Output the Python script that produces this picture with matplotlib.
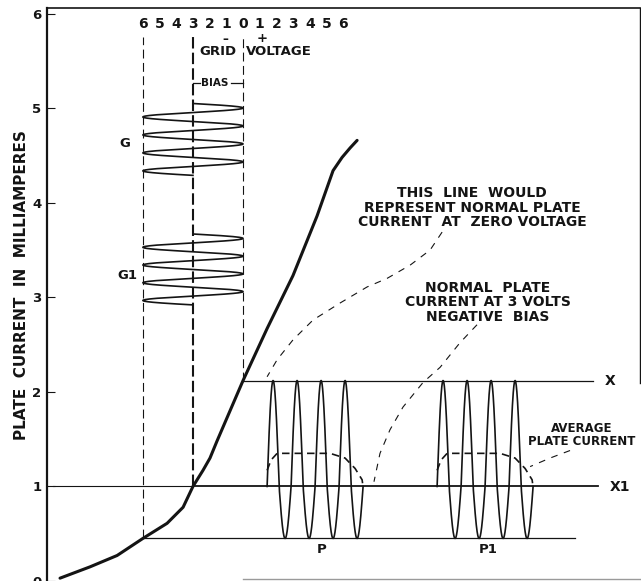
import numpy as np
import matplotlib.pyplot as plt

# Характеристика лампы: сеточное напряжение (В) -> анодный ток (мА)
curve_v = [-10.96, -9.16, -7.54, -6.0, -4.55, -3.59, -3.0, -2.40, -1.98, -1.56,
           0.0, 1.44, 2.99, 4.43, 5.39, 5.93, 6.41, 6.83]
curve_i = [0.03, 0.15, 0.27, 0.45, 0.61, 0.78, 1.0, 1.17, 1.30, 1.48,
           2.12, 2.67, 3.23, 3.86, 4.34, 4.48, 4.58, 4.66]

# Шкала сеточного напряжения сверху
top_pos = [-6, -5, -4, -3, -2, -1, 0, 1, 2, 3, 4, 5, 6]
top_labels = ["6", "5", "4", "3", "2", "1", "0", "1", "2", "3", "4", "5", "6"]
y_ticks = [0, 1, 2, 3, 4, 5, 6]

# Рабочие уровни
bias_v = -3.0
swing_v = 3.0
plate_max = 2.12
plate_bias = 1.0
plate_min = 0.45
dash_top = 5.75

# Сигналы на сетке G и G1: (верх, низ) по оси тока, 4 периода
grid_names = ["G", "G1"]
grid_spans = [(5.05, 4.29), (3.67, 2.92)]
grid_label_v = [-7.07, -6.95]
grid_label_i = [4.63, 3.23]

# Анодный ток P и P1
plate_names = ["P", "P1"]
plate_starts = [1.44, 11.62]
plate_cycle = 1.437
n_cycles = 4
plate_label_v = [4.73, 14.67]
plate_label_i = [0.33, 0.33]

# Средний анодный ток (пунктирная дуга), смещения от начала волны
arch_dx = [0.0, 0.24, 0.6, 3.77, 4.67, 5.27, 5.69, 5.75]
arch_i = [1.17, 1.28, 1.35, 1.35, 1.30, 1.19, 1.07, 0.99]

# Горизонтальные линии
x_line = (0.0, 20.96)
x1_line = (-11.4, 21.26)
min_line = (-6.0, 19.88)

# Выноски
lead_zero_v = [11.92, 11.20, 10.0, 8.62, 7.43, 5.81, 4.19, 2.99, 2.04, 1.44]
lead_zero_i = [3.69, 3.50, 3.34, 3.20, 3.11, 2.94, 2.76, 2.55, 2.34, 2.16]
lead_bias_v = [14.01, 12.99, 11.80, 10.78, 9.58, 8.80, 8.20, 7.84]
lead_bias_i = [2.71, 2.52, 2.26, 2.10, 1.84, 1.60, 1.35, 1.05]
lead_avg_v = [19.58, 18.38, 17.19]
lead_avg_i = [1.38, 1.30, 1.21]

ink = "#141414"
font = dict(fontweight="bold", color=ink, family="DejaVu Sans")

xmin, xmax = -11.74, 23.77
ymin, ymax = 0.0, 6.06

fig = plt.figure(figsize=(6.41, 5.81), dpi=100)
ax = fig.add_axes([47 / 641, 0, 593 / 641, 573 / 581])
ax.set_xlim(xmin, xmax)
ax.set_ylim(ymin, ymax)

# Рамка
for side in ["right", "bottom"]:
    ax.spines[side].set_visible(False)
ax.spines["left"].set_linewidth(1.6)
ax.spines["top"].set_linewidth(1.2)
ax.spines["left"].set_color(ink)
ax.spines["top"].set_color(ink)
ax.plot([xmax, xmax], [2.09, ymax], color=ink, lw=1.0, clip_on=False)
ax.plot([0.0, xmax], [0.02, 0.02], color="#9a9a9a", lw=1.0, clip_on=False)

ax.set_xticks([])
ax.set_yticks(y_ticks)
ax.tick_params(axis="y", direction="in", length=6, width=0.8, pad=4,
               labelsize=9.5, colors=ink)
for lbl in ax.get_yticklabels():
    lbl.set_fontweight("bold")

fig.text(22 / 641, 1 - 285 / 581, "PLATE  CURRENT  IN  MILLIAMPERES",
         rotation=90, ha="center", va="center", fontsize=11, **font)

# Вертикальные пунктиры -6, -3, 0 В
ax.plot([-6, -6], [plate_min, dash_top], color=ink, lw=0.8, dashes=(8, 4))
ax.plot([bias_v, bias_v], [plate_bias, dash_top], color=ink, lw=1.5, dashes=(5.5, 2))
ax.plot([0, 0], [plate_max, dash_top], color=ink, lw=0.8, dashes=(8, 4))

# Подписи сверху
for pos, lab in zip(top_pos, top_labels):
    ax.text(pos, 5.89, lab, ha="center", va="center", fontsize=10, **font)
ax.text(-1.08, 5.73, "\u2013", ha="center", va="center", fontsize=8.5, **font)
ax.text(1.14, 5.74, "+", ha="center", va="center", fontsize=9.5, **font)
ax.text(-0.4, 5.595, "GRID", ha="right", va="center", fontsize=9.5, **font)
ax.text(0.15, 5.595, "VOLTAGE", ha="left", va="center", fontsize=9.5, **font)
ax.text(-1.68, 5.27, "BIAS", ha="center", va="center", fontsize=7.5, **font)
ax.plot([bias_v, -2.55], [5.27, 5.27], color=ink, lw=0.9)
ax.plot([-0.75, 0.0], [5.27, 5.27], color=ink, lw=0.9)

# Характеристика
ax.plot(curve_v, curve_i, color=ink, lw=2.2, solid_capstyle="round",
        solid_joinstyle="round")

# Горизонтальные линии
ax.plot(x_line, [plate_max, plate_max], color=ink, lw=0.9)
ax.plot([x1_line[0], bias_v], [plate_bias, plate_bias], color=ink, lw=0.8)
ax.plot([bias_v, x1_line[1]], [plate_bias, plate_bias], color=ink, lw=1.3)
ax.plot(min_line, [plate_min, plate_min], color=ink, lw=0.9)
ax.text(21.98, plate_max, "X", ha="center", va="center", fontsize=10, **font)
ax.text(22.6, plate_bias - 0.01, "X1", ha="center", va="center", fontsize=10, **font)

# Сигналы на сетке
for name, (top, bottom), lv, li in zip(grid_names, grid_spans, grid_label_v, grid_label_i):
    t = np.linspace(0, n_cycles, 600)
    yy = top - (top - bottom) * t / n_cycles
    xx = bias_v + swing_v * np.sin(2 * np.pi * t)
    ax.plot(xx, yy, color=ink, lw=1.2)
    ax.text(lv, li, name, ha="center", va="center", fontsize=9.5, **font)

# Анодный ток и средний ток
for name, start, lv, li in zip(plate_names, plate_starts, plate_label_v, plate_label_i):
    t = np.linspace(0, n_cycles, 800)
    s = np.sin(2 * np.pi * t)
    ii = np.where(s > 0, plate_bias + (plate_max - plate_bias) * s,
                  plate_bias + (plate_bias - plate_min) * s)
    ax.plot(start + t * plate_cycle, ii, color=ink, lw=1.2)
    ax.plot([start + d for d in arch_dx], arch_i, color=ink, lw=1.2, dashes=(4.5, 3))
    ax.text(lv, li, name, ha="center", va="center", fontsize=9.5, **font)

# Выноски
for lv, li in [(lead_zero_v, lead_zero_i), (lead_bias_v, lead_bias_i), (lead_avg_v, lead_avg_i)]:
    ax.plot(lv, li, color=ink, lw=0.8, dashes=(6, 6))

ax.text(13.71, 3.95, "THIS  LINE  WOULD\nREPRESENT NORMAL PLATE\nCURRENT  AT  ZERO VOLTAGE",
        ha="center", va="center", fontsize=10, linespacing=1.05, **font)
ax.text(14.67, 2.95, "NORMAL  PLATE\nCURRENT AT 3 VOLTS\nNEGATIVE  BIAS",
        ha="center", va="center", fontsize=10, linespacing=1.05, **font)
ax.text(20.3, 1.54, "AVERAGE\nPLATE CURRENT",
        ha="center", va="center", fontsize=8.5, linespacing=1.0, **font)

fig.savefig("out.png", dpi=100, facecolor="white")
